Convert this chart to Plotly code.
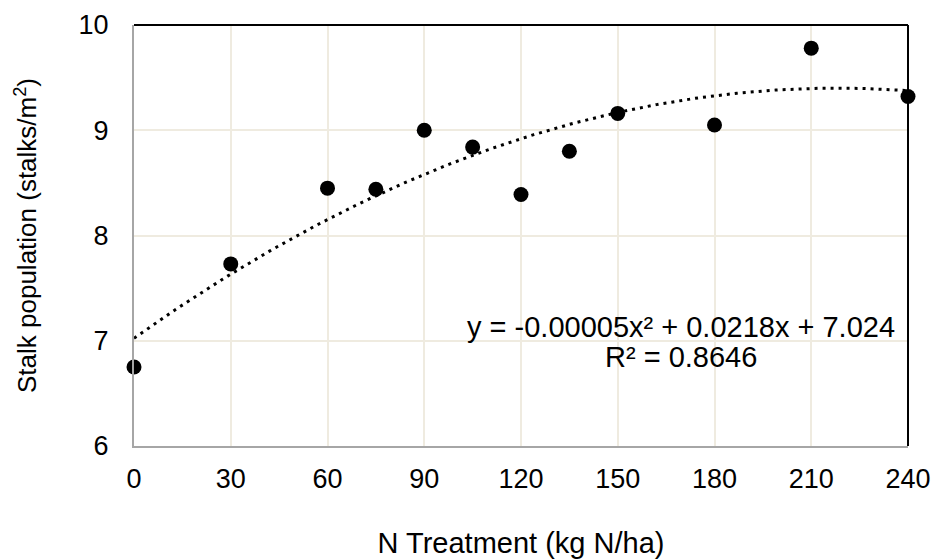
import numpy as np
import plotly.graph_objects as go

# N rate (kg N/ha) and observed stalk population (stalks/m2)
n_rate = [0, 30, 60, 75, 90, 105, 120, 135, 150, 180, 210, 240]
stalks = [6.75, 7.73, 8.45, 8.44, 9.00, 8.84, 8.39, 8.80, 9.16, 9.05, 9.78, 9.32]

# quadratic trendline coefficients (a*x^2 + b*x + c) and fit quality
coef_a, coef_b, coef_c = -0.00005, 0.0218, 7.024
r_squared = 0.8646

x_ticks = [0, 30, 60, 90, 120, 150, 180, 210, 240]
y_ticks = [6, 7, 8, 9, 10]

FONT = "Liberation Sans, Arial, sans-serif"

xs = np.linspace(0, 240, 241)
trend = coef_a * xs**2 + coef_b * xs + coef_c

fig = go.Figure()
fig.add_trace(go.Scatter(
    x=xs, y=trend, mode="lines",
    line=dict(color="black", width=3, dash="3px,5px"),
    hoverinfo="skip", showlegend=False, cliponaxis=False,
))
fig.add_trace(go.Scatter(
    x=n_rate, y=stalks, mode="markers",
    marker=dict(color="black", size=15),
    showlegend=False, cliponaxis=False,
))

# top and right frame lines
fig.add_shape(type="line", xref="paper", yref="paper", x0=0, x1=1, y0=1, y1=1,
              line=dict(color="black", width=2))
fig.add_shape(type="line", xref="paper", yref="paper", x0=1, x1=1, y0=0, y1=1,
              line=dict(color="black", width=2))

# trendline equation and R-squared
fig.add_annotation(
    x=169.5, y=7.13, xref="x", yref="y", showarrow=False,
    text=f"y = {coef_a:.5f}x² + {coef_b}x + {coef_c}",
    font=dict(family=FONT, size=29, color="black"), xanchor="center", yanchor="middle",
)
fig.add_annotation(
    x=169.5, y=6.85, xref="x", yref="y", showarrow=False,
    text=f"R² = {r_squared}",
    font=dict(family=FONT, size=29, color="black"), xanchor="center", yanchor="middle",
)

fig.update_layout(
    width=935, height=559,
    margin=dict(l=134, r=27, t=25, b=113),
    paper_bgcolor="white", plot_bgcolor="white",
    font=dict(family=FONT, size=27, color="black"),
    xaxis=dict(
        range=[0, 240], tickvals=x_ticks, ticks="", ticklabelstandoff=8,
        automargin=False,
        showgrid=True, gridcolor="#EFEBE0", gridwidth=2,
        showline=True, linecolor="#A6A6A6", linewidth=2, zeroline=False,
        title=dict(text="N Treatment (kg N/ha)", standoff=42,
                   font=dict(family=FONT, size=29)),
        tickfont=dict(family=FONT, size=27),
    ),
    yaxis=dict(
        range=[6, 10], tickvals=y_ticks, ticks="", ticklabelstandoff=18,
        automargin=False,
        showgrid=True, gridcolor="#EFEBE0", gridwidth=2,
        showline=True, linecolor="#A6A6A6", linewidth=2, zeroline=False,
        title=dict(text="Stalk population (stalks/m<sup>2</sup>)", standoff=34,
                   font=dict(family=FONT, size=26)),
        tickfont=dict(family=FONT, size=27),
    ),
)

fig.write_html("out.html")
